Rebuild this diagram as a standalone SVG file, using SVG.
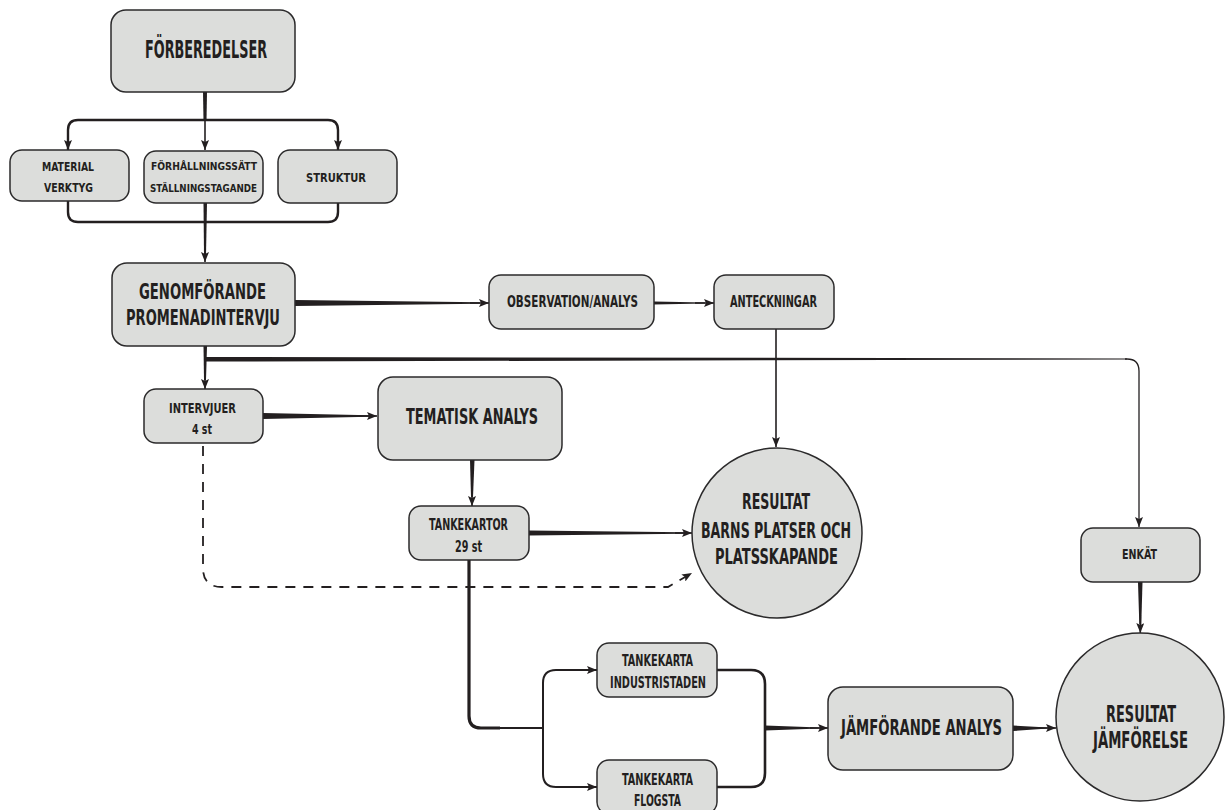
<svg xmlns="http://www.w3.org/2000/svg" width="1226" height="810" viewBox="0 0 1226 810">
<style>
.box{fill:#dcdddb;stroke:#2b2a2b;stroke-width:1.5}
.t{font-family:'DejaVu Sans Condensed','Liberation Sans Narrow','DejaVu Sans',sans-serif;font-stretch:condensed;font-weight:bold;fill:#231f20;text-anchor:middle}
.c{fill:none;stroke:#231f20;stroke-width:1.6}
.w{fill:#231f20;stroke:none}
.d{fill:none;stroke:#231f20;stroke-width:1.8;stroke-dasharray:10 8}
</style>
<defs>
<marker id="ah" viewBox="0 0 10 8" refX="10" refY="4" markerWidth="10" markerHeight="8" markerUnits="userSpaceOnUse" orient="auto">
<path d="M0,0 L10,4 L0,8 L2,4 z" fill="#231f20"/>
</marker>
</defs>
<rect width="1226" height="810" fill="#ffffff"/>
<g id="connectors">
<path class="w" d="M203,92 H207 L206.5,121 H203.5 z"/>
<path class="c" style="stroke-width:2.4" d="M68,150 V130 Q68,120 78,120 H328 Q338,120 338,130 V150" marker-end="url(#ah)"/>
<path class="c" d="M68,140 V150" marker-end="url(#ah)"/>
<path class="c" d="M205,120 V150" marker-end="url(#ah)"/>
<path class="c" style="stroke-width:2.4" d="M68,200 V212 Q68,222 78,222 H328 Q338,222 338,212 V203"/>
<path class="w" d="M203.5,203 H207 L206,255 H204 z"/>
<path class="c" d="M205,240 V262" marker-end="url(#ah)"/>
<path class="w" d="M295,300 L480,302.3 V303.7 L295,306 z"/>
<path class="c" d="M470,303 H489" marker-end="url(#ah)"/>
<path class="w" d="M654,301.5 L705,302.4 V303.6 L654,304.5 z"/>
<path class="c" d="M695,303 H714" marker-end="url(#ah)"/>
<path class="c" d="M776,329 V447" marker-end="url(#ah)"/>
<path class="w" d="M203.5,346 H207 L206,380 H204 z"/>
<path class="c" d="M205,370 V389" marker-end="url(#ah)"/>
<path class="w" d="M205,357 L1127,358.4 V359.6 L205,361.5 z"/>
<path class="c" style="stroke-width:1.3" d="M1125,359 H1127 Q1139,359 1139,371 V527" marker-end="url(#ah)"/>
<path class="w" d="M263,413 L370,415.3 V416.7 L263,419 z"/>
<path class="c" d="M360,416 H377" marker-end="url(#ah)"/>
<path class="w" d="M470,460 H474.5 L473,497 H471 z"/>
<path class="c" d="M472,490 V506" marker-end="url(#ah)"/>
<path class="w" d="M529,530.5 L684,532.3 V533.7 L529,535.5 z"/>
<path class="c" d="M675,533 H692" marker-end="url(#ah)"/>
<path class="d" d="M203,446 V568 Q203,587 222,587 H668 L692,573" marker-end="url(#ah)"/>
<path class="c" style="stroke-width:3.2" d="M469,560 V716 Q469,728 481,728 H500"/>
<path class="c" style="stroke-width:2" d="M495,728 H542"/>
<path class="c" style="stroke-width:2" d="M597,670 H556 Q543,670 543,683 V774 Q543,787 556,787 H597" marker-end="url(#ah)"/>
<path class="c" style="stroke-width:2" d="M580,670 H597" marker-end="url(#ah)"/>
<path class="c" style="stroke-width:2.6" d="M717,670 H751 Q765,670 765,684 V773 Q765,787 751,787 H717"/>
<path class="w" d="M765,725.5 L820,727.4 V728.6 L765,730.5 z"/>
<path class="c" d="M810,728 H828" marker-end="url(#ah)"/>
<path class="w" d="M1013,725.5 L1048,727.4 V728.6 L1013,731 z"/>
<path class="c" d="M1040,728 H1056" marker-end="url(#ah)"/>
<path class="w" d="M1138,582 H1142.5 L1141.3,624 H1139.3 z"/>
<path class="c" d="M1140.3,615 V633" marker-end="url(#ah)"/>
</g>
<g id="forberedelser">
<rect class="box" x="111" y="10" width="184" height="82" rx="15"/>
<text class="t" x="206" y="58" font-size="25" textLength="122" lengthAdjust="spacingAndGlyphs">FÖRBEREDELSER</text>
</g>
<g id="material">
<rect class="box" x="10" y="150" width="119" height="51" rx="12"/>
<text class="t" x="68" y="171" font-size="12.5" textLength="52" lengthAdjust="spacingAndGlyphs">MATERIAL</text>
<text class="t" x="68.5" y="192" font-size="12.5" textLength="49" lengthAdjust="spacingAndGlyphs">VERKTYG</text>
</g>
<g id="forhallningssatt">
<rect class="box" x="144" y="151" width="119" height="52" rx="12"/>
<text class="t" x="204" y="170" font-size="10.5" textLength="106" lengthAdjust="spacingAndGlyphs">FÖRHÅLLNINGSSÄTT</text>
<text class="t" x="203.5" y="192" font-size="10.5" textLength="107" lengthAdjust="spacingAndGlyphs">STÄLLNINGSTAGANDE</text>
</g>
<g id="struktur">
<rect class="box" x="278" y="150" width="119" height="53" rx="12"/>
<text class="t" x="336" y="182" font-size="13" textLength="60" lengthAdjust="spacingAndGlyphs">STRUKTUR</text>
</g>
<g id="genomforande">
<rect class="box" x="112" y="263" width="183" height="83" rx="15"/>
<text class="t" x="202.5" y="299" font-size="21" textLength="127" lengthAdjust="spacingAndGlyphs">GENOMFÖRANDE</text>
<text class="t" x="203" y="325" font-size="21" textLength="154" lengthAdjust="spacingAndGlyphs">PROMENADINTERVJU</text>
</g>
<g id="observation">
<rect class="box" x="489" y="275" width="165" height="54" rx="12"/>
<text class="t" x="572.5" y="307" font-size="15.5" textLength="131" lengthAdjust="spacingAndGlyphs">OBSERVATION/ANALYS</text>
</g>
<g id="anteckningar">
<rect class="box" x="714" y="275" width="120" height="54" rx="12"/>
<text class="t" x="773.5" y="307" font-size="15.5" textLength="87" lengthAdjust="spacingAndGlyphs">ANTECKNINGAR</text>
</g>
<g id="intervjuer">
<rect class="box" x="144" y="389" width="119" height="54" rx="12"/>
<text class="t" x="202.5" y="413" font-size="14.5" textLength="67" lengthAdjust="spacingAndGlyphs">INTERVJUER</text>
<text class="t" x="202" y="434" font-size="14.5" textLength="20" lengthAdjust="spacingAndGlyphs">4 st</text>
</g>
<g id="tematisk">
<rect class="box" x="378" y="377" width="184" height="83" rx="15"/>
<text class="t" x="472" y="424" font-size="21.5" textLength="132" lengthAdjust="spacingAndGlyphs">TEMATISK ANALYS</text>
</g>
<g id="tankekartor">
<rect class="box" x="409" y="506" width="120" height="54" rx="12"/>
<text class="t" x="468.5" y="530" font-size="15.5" textLength="79" lengthAdjust="spacingAndGlyphs">TANKEKARTOR</text>
<text class="t" x="468.5" y="552" font-size="15.5" textLength="27" lengthAdjust="spacingAndGlyphs">29 st</text>
</g>
<g id="resultat1">
<circle class="box" cx="777" cy="533" r="85"/>
<text class="t" x="776" y="509" font-size="20.5" textLength="68" lengthAdjust="spacingAndGlyphs">RESULTAT</text>
<text class="t" x="776" y="538" font-size="20.5" textLength="150" lengthAdjust="spacingAndGlyphs">BARNS PLATSER OCH</text>
<text class="t" x="776.5" y="564" font-size="20.5" textLength="123" lengthAdjust="spacingAndGlyphs">PLATSSKAPANDE</text>
</g>
<g id="enkat">
<rect class="box" x="1081" y="528" width="119" height="54" rx="12"/>
<text class="t" x="1139.5" y="559" font-size="14" textLength="35" lengthAdjust="spacingAndGlyphs">ENKÄT</text>
</g>
<g id="tankekarta-industristaden">
<rect class="box" x="597" y="643" width="120" height="54" rx="12"/>
<text class="t" x="657.5" y="666" font-size="16" textLength="71" lengthAdjust="spacingAndGlyphs">TANKEKARTA</text>
<text class="t" x="658" y="688" font-size="16" textLength="96" lengthAdjust="spacingAndGlyphs">INDUSTRISTADEN</text>
</g>
<g id="tankekarta-flogsta">
<rect class="box" x="597" y="760" width="120" height="54" rx="12"/>
<text class="t" x="657.5" y="785" font-size="16" textLength="71" lengthAdjust="spacingAndGlyphs">TANKEKARTA</text>
<text class="t" x="657.5" y="806" font-size="16" textLength="47" lengthAdjust="spacingAndGlyphs">FLOGSTA</text>
</g>
<g id="jamforande">
<rect class="box" x="828" y="687" width="185" height="83" rx="15"/>
<text class="t" x="921.5" y="735" font-size="21" textLength="161" lengthAdjust="spacingAndGlyphs">JÄMFÖRANDE ANALYS</text>
</g>
<g id="resultat2">
<circle class="box" cx="1140" cy="717" r="84"/>
<text class="t" x="1141" y="722" font-size="22.5" textLength="70" lengthAdjust="spacingAndGlyphs">RESULTAT</text>
<text class="t" x="1140.5" y="748" font-size="22.5" textLength="95" lengthAdjust="spacingAndGlyphs">JÄMFÖRELSE</text>
</g>
</svg>
